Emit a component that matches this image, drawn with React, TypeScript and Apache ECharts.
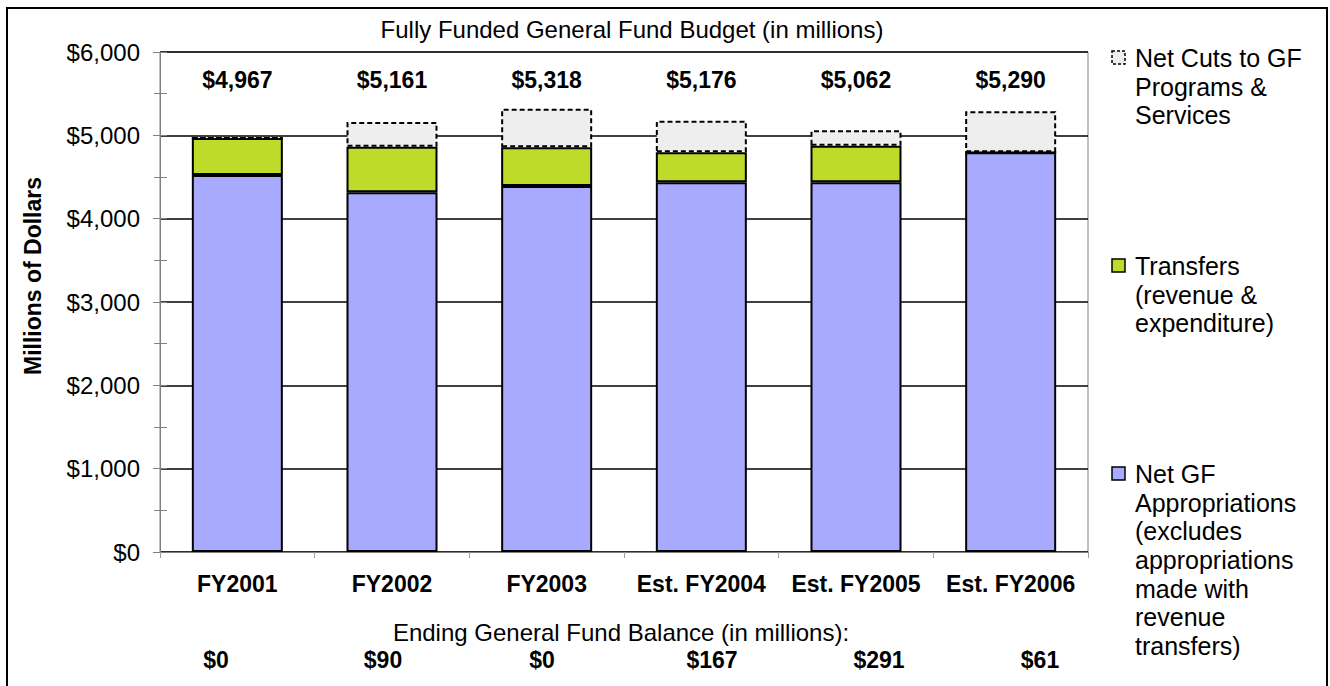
import React, { useEffect, useRef } from "react";
import * as echarts from "echarts";

const categories = ["FY2001", "FY2002", "FY2003", "Est. FY2004", "Est. FY2005", "Est. FY2006"];
const appropriations = [4524, 4316, 4392, 4436, 4436, 4796];
const transfers = [443, 548, 464, 360, 440, 0];
const netCuts = [0, 297, 462, 380, 186, 494];
const totals = [4967, 5161, 5318, 5176, 5062, 5290];
const balances = ["$0", "$90", "$0", "$167", "$291", "$61"];
const yTicks = { min: 0, max: 6000, interval: 1000 };

const seriesNames = [
  "Net Cuts to GF Programs & Services",
  "Transfers (revenue & expenditure)",
  "Net GF Appropriations (excludes appropriations made with revenue transfers)",
];
const legendLines = [
  ["Net Cuts to GF", "Programs &", "Services"],
  ["Transfers", "(revenue &", "expenditure)"],
  ["Net GF", "Appropriations", "(excludes", "appropriations", "made with", "revenue", "transfers)"],
];
const TITLE = "Fully Funded General Fund Budget (in millions)";
const BALANCE_TITLE = "Ending General Fund Balance (in millions):";
const Y_NAME = "Millions of Dollars";

const FONT = 'Arial, "Liberation Sans", Helvetica, sans-serif';
const PURPLE = "#a8aaff";
const GREEN = "#bfdb2a";
const GREY = "#eeeeee";

const fmt = (v: number) => "$" + v.toLocaleString("en-US");

export default function App() {
  const ref = useRef<HTMLDivElement>(null);
  useEffect(() => {
    document.body.style.margin = "0";
    const chart = echarts.init(ref.current!, null, { renderer: "svg" });

    const legendColors = [
      { fill: GREY, stroke: "#000", dash: [3, 2] },
      { fill: GREEN, stroke: "#000", dash: null },
      { fill: PURPLE, stroke: "#000", dash: null },
    ];
    const legendCenters = [58, 266, 474];
    const lh = 28.7;
    const legendGraphics: any[] = [];
    legendLines.forEach((lines, i) => {
      const c = legendCenters[i];
      legendGraphics.push({
        type: "rect",
        shape: { x: 1112, y: c - 7, width: 13, height: 13 },
        style: {
          fill: legendColors[i].fill,
          stroke: legendColors[i].stroke,
          lineWidth: 1.5,
          lineDash: legendColors[i].dash || undefined,
        },
      });
      legendGraphics.push({
        type: "text",
        x: 1135,
        y: c - lh / 2,
        style: {
          text: lines.join("\n"),
          font: `25px ${FONT}`,
          fill: "#000",
          lineHeight: lh,
          verticalAlign: "top",
          align: "left",
        },
      });
    });

    const balanceX = [216, 383, 542, 712, 879, 1040];
    const balanceGraphics = balances.map((b, i) => ({
      type: "text",
      x: balanceX[i],
      y: 660,
      style: {
        text: b,
        font: `bold 23px ${FONT}`,
        fill: "#000",
        align: "center",
        verticalAlign: "middle",
      },
    }));

    chart.setOption({
      animation: false,
      backgroundColor: "#fff",
      textStyle: { fontFamily: FONT },
      title: {
        text: TITLE,
        left: 627,
        top: 12,
        textAlign: "center",
        textStyle: { fontSize: 24, fontWeight: "normal", color: "#000", fontFamily: FONT },
      },
      grid: {
        left: 160,
        top: 52,
        width: 928,
        height: 500,
        show: true,
        borderColor: "#808080",
        borderWidth: 1,
        backgroundColor: "#fff",
      },
      xAxis: {
        type: "category",
        data: categories,
        axisLine: { lineStyle: { color: "#808080", width: 1 } },
        axisTick: { show: true, length: 6, lineStyle: { color: "#a0a0a0" } },
        axisLabel: {
          interval: 0,
          margin: 20,
          fontSize: 23,
          fontWeight: "bold",
          color: "#000",
          fontFamily: FONT,
        },
      },
      yAxis: [
        {
          type: "value",
          min: yTicks.min,
          max: yTicks.max,
          interval: yTicks.interval,
          name: Y_NAME,
          nameLocation: "middle",
          nameRotate: 90,
          nameGap: 116,
          nameTextStyle: {
            fontSize: 23,
            fontWeight: "bold",
            color: "#000",
            fontFamily: FONT,
            padding: [0, 0, 0, 52],
          },
          axisLine: { show: true, lineStyle: { color: "#808080", width: 1 } },
          axisTick: { show: true, length: 7, lineStyle: { color: "#808080" } },
          minorTick: { show: true, splitNumber: 2, length: 6, lineStyle: { color: "#808080" } },
          axisLabel: {
            margin: 20,
            fontSize: 24,
            color: "#000",
            fontFamily: FONT,
            formatter: (v: number) => fmt(v),
          },
          splitLine: { show: true, lineStyle: { color: "#000", width: 1.5 } },
        },
        {
          type: "value",
          min: yTicks.min,
          max: yTicks.max,
          interval: yTicks.interval / 2,
          position: "left",
          axisLine: { show: false },
          axisTick: { show: true, inside: true, length: 7, lineStyle: { color: "#808080" } },
          axisLabel: { show: false },
          splitLine: { show: false },
        },
      ],
      series: [
        {
          name: seriesNames[2],
          type: "bar",
          stack: "total",
          barWidth: 91,
          data: appropriations,
          itemStyle: { color: PURPLE, borderColor: "#000", borderWidth: 2 },
        },
        {
          name: seriesNames[1],
          type: "bar",
          stack: "total",
          barWidth: 91,
          data: transfers,
          itemStyle: { color: GREEN, borderColor: "#000", borderWidth: 2 },
        },
        {
          name: seriesNames[0],
          type: "bar",
          stack: "total",
          barWidth: 91,
          data: netCuts,
          itemStyle: {
            color: GREY,
            borderColor: "#000",
            borderWidth: 2,
            borderType: [5, 3],
          },
        },
        {
          name: "Totals",
          type: "scatter",
          symbolSize: 0,
          silent: true,
          itemStyle: { color: "#000", opacity: 1 },
          data: totals.map((t, i) => [i, 5665]),
          label: {
            show: true,
            position: "inside",
            formatter: (p: any) => fmt(totals[p.dataIndex]),
            fontSize: 23,
            fontWeight: "bold",
            color: "#000",
            opacity: 1,
            textBorderWidth: 0,
            fontFamily: FONT,
          },
        },
      ],
      graphic: [
        {
          type: "rect",
          shape: { x: 7, y: 8, width: 1320, height: 720 },
          style: { fill: "none", stroke: "#000", lineWidth: 2 },
          silent: true,
        },
        {
          type: "text",
          x: 621,
          y: 632,
          style: {
            text: BALANCE_TITLE,
            font: `24px ${FONT}`,
            fill: "#000",
            align: "center",
            verticalAlign: "middle",
          },
        },
        ...balanceGraphics,
        ...legendGraphics,
      ],
    });
    return () => chart.dispose();
  }, []);
  return <div ref={ref} style={{ width: 1330, height: 686 }} />;
}
